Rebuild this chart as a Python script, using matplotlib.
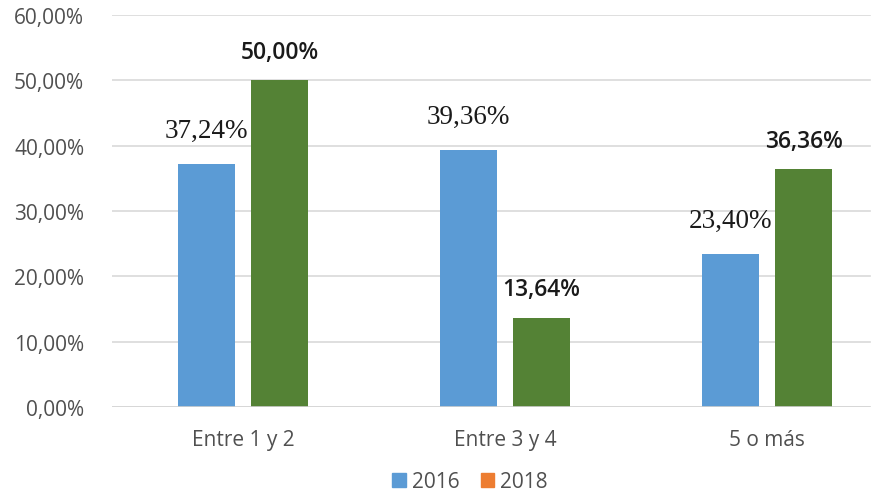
import matplotlib
matplotlib.use("Agg")
import matplotlib.pyplot as plt
from matplotlib.patches import Patch
import numpy as np

categories = ["Entre 1 y 2", "Entre 3 y 4", "5 o más"]
values_2016 = [37.24, 39.36, 23.40]
values_2018 = [50.00, 13.64, 36.36]
series_names = ["2016", "2018"]
yticks = [0, 10, 20, 30, 40, 50, 60]


def fmt(v):
    return f"{v:.2f}".replace(".", ",") + "%"


blue = "#5B9BD5"
green = "#548235"
orange = "#ED7D31"
gray_text = "#505050"

fig = plt.figure(figsize=(8.79, 5.02), dpi=100)
ax = fig.add_axes([112 / 879, 94 / 502, 786 / 879, 392 / 502])

x = np.arange(len(categories))
w = 0.218
off = 0.14
bars1 = ax.bar(x - off, values_2016, w, color=blue, zorder=3)
bars2 = ax.bar(x + off, values_2018, w, color=green, zorder=3)

for b, v in zip(bars1, values_2016):
    ax.annotate(fmt(v), (b.get_x() + b.get_width() / 2, v), xytext=(0, 15),
                textcoords="offset points", ha="center", va="bottom",
                fontsize=19.5, family="Liberation Serif", color="#1a1a1a")
for b, v in zip(bars2, values_2018):
    ax.annotate(fmt(v), (b.get_x() + b.get_width() / 2, v), xytext=(0, 12),
                textcoords="offset points", ha="center", va="bottom",
                fontsize=16.5, family="Open Sans", fontweight="semibold", color="#1a1a1a")

ax.set_xlim(-0.5, 2.5)
ax.set_ylim(0, 60)
ax.set_yticks(yticks)
ax.set_yticklabels([fmt(t) for t in yticks], family="Open Sans", fontsize=15, color=gray_text)
ax.set_xticks(x)
ax.set_xticklabels(categories, family="Open Sans", fontsize=15, color=gray_text)
ax.tick_params(axis="both", length=0)
ax.tick_params(axis="y", pad=20)
ax.tick_params(axis="x", pad=16)
for t in yticks[1:]:
    ax.axhline(t, xmin=0, xmax=0.964, color="#D9D9D9", linewidth=1.2, zorder=0)
ax.axhline(0, xmin=0, xmax=0.964, color="#D0D0D0", linewidth=1.2, zorder=4)
for s in ["top", "right", "left", "bottom"]:
    ax.spines[s].set_visible(False)

handles = [Patch(color=blue), Patch(color=orange)]
fig.legend(handles, series_names, loc="lower center", bbox_to_anchor=(0.535, -0.02),
           ncol=2, frameon=False, handlelength=0.65, handleheight=0.65,
           handletextpad=0.3, columnspacing=1.0,
           prop={"family": "Open Sans", "size": 15})
for t in fig.legends[0].get_texts():
    t.set_color(gray_text)

fig.savefig("out.png", dpi=100)
